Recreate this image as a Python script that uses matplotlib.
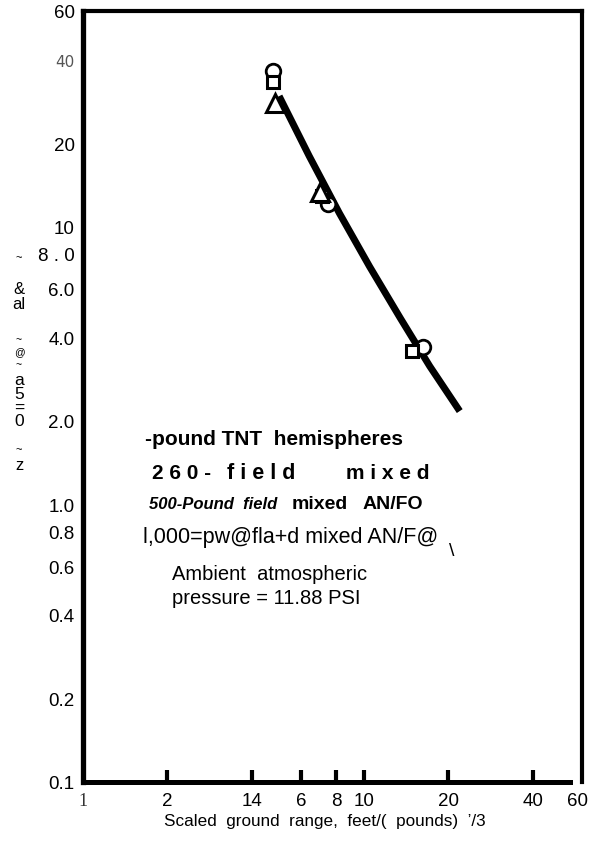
import matplotlib
matplotlib.use('Agg')
import matplotlib.pyplot as plt
from matplotlib import font_manager
from matplotlib.transforms import ScaledTranslation
import numpy as np

# fonts: narrow sans for tick numbers when present
_names = {f.name for f in font_manager.fontManager.ttflist}
NARROW = 'Liberation Sans Narrow' if 'Liberation Sans Narrow' in _names else 'Liberation Sans'
SANS = 'Liberation Sans'

# axis ticks
x_ticks = [1, 2, 4, 6, 8, 10, 20, 40, 60]
x_tick_labels = ['1', '2', '14', '6', '8', '10', '20', '40', '60']
y_ticks = [0.1, 0.2, 0.4, 0.6, 0.8, 1.0, 2.0, 4.0, 6.0, 8.0, 10, 20, 40, 60]
y_tick_labels = ['0.1', '0.2', '0.4', '0.6', '0.8', '1.0', '2.0', '4.0',
                 '6.0', '8 . 0', '10', '20', '40', '60']

# fitted overpressure curve
curve_range = [5.0, 6.4, 8.2, 10.5, 13.5, 17.2, 22.0]
curve_pressure = [29.6, 18.0, 11.2, 7.2, 4.7, 3.15, 2.17]

# measured points
circle_range = [4.75, 7.45, 16.3]
circle_pressure = [36.5, 12.1, 3.7]
square_range = [4.75, 7.1, 14.9]
square_pressure = [33.3, 12.9, 3.57]
triangle_range = [4.85, 7.0]
triangle_pressure = [28.0, 13.4]

# key text, split into the pieces as they are spaced out
key_pieces = [
    # (left px, row px, text, size, weight, style)
    (145, 440, '-pound TNT  hemispheres', 15, 'bold', 'normal'),
    (152, 474, '2 6 0 -', 15, 'bold', 'normal'),
    (227, 474, 'f i e l d', 15.5, 'bold', 'normal'),
    (346, 474, 'm i x e d', 15, 'bold', 'normal'),
    (149, 505, '500-Pound  field', 12, 'bold', 'italic'),
    (292, 505, 'mixed', 14, 'bold', 'normal'),
    (363, 505, 'AN/FO', 14, 'bold', 'normal'),
    (143, 537, 'l,000=pw@fla+d mixed AN/F@', 15.5, 'normal', 'normal'),
    (172, 575, 'Ambient  atmospheric', 14.5, 'normal', 'normal'),
    (172, 599, 'pressure = 11.88 PSI', 14.5, 'normal', 'normal'),
]

# scrambled vertical axis caption, stacked top to bottom
ylabel_parts = [
    # (row px, text, size, linespacing)
    (258, '~', 8, 1.0),
    (297, '&\nal', 12, 1.0),
    (340, '~', 7.5, 1.0),
    (352, '@', 7.5, 1.0),
    (365, '~', 7.5, 1.0),
    (401, 'a\n5\n=\n0', 12.5, 0.9),
    (450, '~', 8, 1.0),
    (466, 'z', 12, 1.0),
]

W, H = 590, 854
fig = plt.figure(figsize=(W / 100, H / 100), dpi=100)
ax = fig.add_axes([83 / W, 1 - 783 / H, (582 - 83) / W, (783 - 12) / H])

ax.set_xscale('log')
ax.set_yscale('log')
ax.set_xlim(1, 60)
ax.set_ylim(0.1, 60)

ax.plot(curve_range, curve_pressure, color='black', lw=5.0,
        solid_capstyle='butt', solid_joinstyle='round', zorder=3)
ax.plot(circle_range, circle_pressure, 'o', ms=10.5, mfc='white', mec='black',
        mew=2.0, zorder=4)
ax.plot(square_range, square_pressure, 's', ms=9, mfc='white', mec='black',
        mew=2.2, zorder=4)
ax.plot(triangle_range, triangle_pressure, '^', ms=12.5, mfc='white', mec='black',
        mew=2.2, zorder=4)

# frame
ax.spines['left'].set_linewidth(3.8)
ax.spines['top'].set_linewidth(3.0)
ax.spines['right'].set_linewidth(3.0)
ax.spines['bottom'].set_visible(False)
ax.axhline(0.1, xmin=0, xmax=(570 - 83) / (582 - 83), color='black', lw=3.6,
           clip_on=False, zorder=5)

ax.xaxis.set_minor_locator(matplotlib.ticker.NullLocator())
ax.yaxis.set_minor_locator(matplotlib.ticker.NullLocator())
ax.set_xticks(x_ticks)
ax.set_xticklabels(x_tick_labels, fontsize=13.5, family=NARROW)
ax.set_yticks(y_ticks)
ax.set_yticklabels(y_tick_labels, fontsize=13.5, family=NARROW)
ax.tick_params(axis='x', direction='in', length=8.5, width=3.0, pad=7,
               top=False, color='black')
ax.tick_params(axis='y', length=0, pad=6, right=False)

# no bump at the axis ends
for t in ax.xaxis.get_major_ticks():
    if t.get_loc() in (1, 60):
        t.tick1line.set_visible(False)
xlabs = ax.get_xticklabels()
xlabs[0].set_family('Liberation Serif')
xlabs[0].set_fontsize(13)
xlabs[0].set_color('#333333')
# last label sits flush against the right edge
xlabs[-1].set_horizontalalignment('right')
xlabs[-1].set_transform(xlabs[-1].get_transform() +
                        ScaledTranslation(6 / 100, 0, fig.dpi_scale_trans))
ylabs = ax.get_yticklabels()
ylabs[-2].set_color('#555555')
ylabs[-2].set_fontsize(11)
ylabs[-2].set_family('DejaVu Sans')


def px(x, y):
    return x / W, 1 - y / H


for x0, y0, txt, size, weight, style in key_pieces:
    fig.text(*px(x0, y0), txt, fontsize=size, fontweight=weight, style=style,
             family=SANS, va='center')
fig.text(*px(452, 551), '\\', fontsize=14, family=SANS, va='center', ha='center')

for row, txt, size, spacing in ylabel_parts:
    fig.text(*px(19, row), txt, fontsize=size, family=NARROW, ha='center',
             va='center', multialignment='center', linespacing=spacing)

fig.text(*px(325, 822), 'Scaled  ground  range,  feet/(  pounds)  \u2019/3',
         fontsize=12.3, family=SANS, ha='center', va='center')

plt.savefig('out.png', dpi=100, facecolor='white')
plt.close()
